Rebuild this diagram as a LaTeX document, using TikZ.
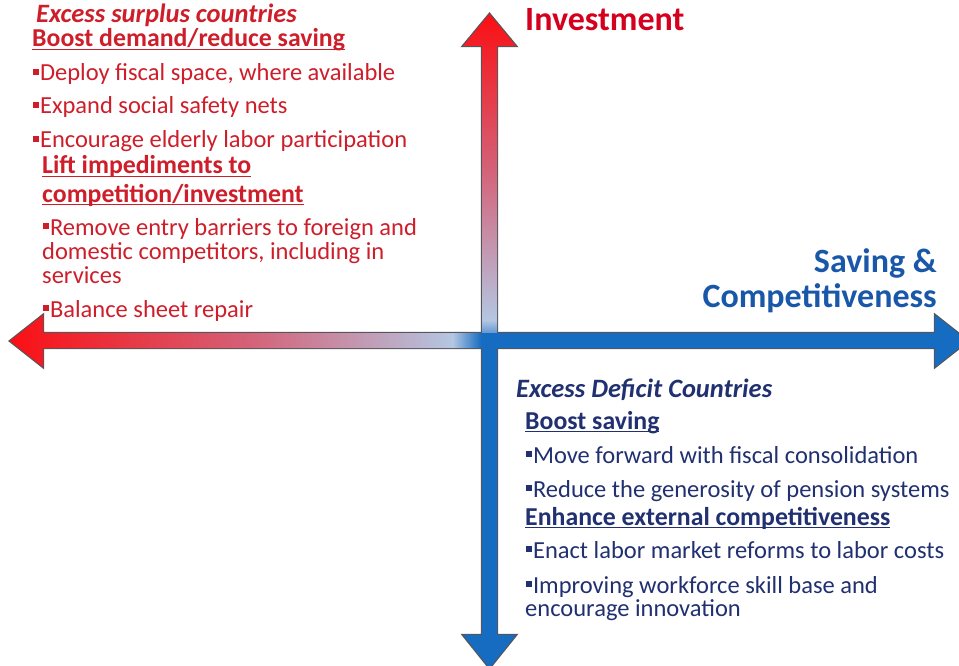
\documentclass[tikz,border=0pt]{standalone}
\usepackage{fontspec}
\setmainfont{Carlito}
\usepackage{tikz}
\definecolor{axred}{RGB}{250,15,20}
\definecolor{axmid}{RGB}{212,98,120}
\definecolor{axlight}{RGB}{180,198,226}
\definecolor{axblue}{RGB}{22,108,192}
\definecolor{axedge}{RGB}{85,85,90}
\definecolor{surpred}{RGB}{206,30,42}
\definecolor{defnavy}{RGB}{32,48,112}
\definecolor{invred}{RGB}{212,0,30}
\definecolor{savblue}{RGB}{25,88,168}
\pgfdeclarehorizontalshading{haxis}{100bp}{color(0bp)=(axred); color(25bp)=(axred); color(37.5bp)=(axmid); color(48.1bp)=(axlight); color(49.6bp)=(axblue); color(100bp)=(axblue)}
\pgfdeclareverticalshading{vaxis}{100bp}{color(0bp)=(axblue); color(49.7bp)=(axblue); color(51.6bp)=(axlight); color(63.1bp)=(axmid); color(75bp)=(axred); color(100bp)=(axred)}
\def\sqb{\raisebox{0.26em}{\rule{0.22em}{0.22em}}\kern0.06em}
\def\uln#1{\setbox0\hbox{#1}\rlap{\rule[-3pt]{\wd0}{1.3pt}}\box0}
\def\hdfont{\fontsize{25.8}{30}\selectfont\bfseries}
\def\ctfont{\fontsize{26.5}{31}\selectfont\bfseries\itshape}
\tikzset{
	txt/.style={inner sep=0pt, anchor=base west, font=\fontsize{24.5}{29}\selectfont},
	redtxt/.style={txt, text=surpred},
	navytxt/.style={txt, text=defnavy},
	axlabel/.style={inner sep=0pt, font=\fontsize{34}{38}\selectfont\bfseries},
}

\begin{document}
\begin{tikzpicture}[x=1pt, y=-1pt]
			%%%%% START %%%%%
			\useasboundingbox (0,0) rectangle (959,666);
			
			% axes: edges first, then fills over them
			\draw[axedge, line width=2.4pt] (10,341) -- (43,315) -- (43,333) -- (935,333) -- (935,315) -- (968,341) -- (935,367) -- (935,348) -- (43,348) -- (43,367) -- cycle;
			\draw[axedge, line width=2.4pt] (489.5,14) -- (516,46) -- (497,46) -- (497,635) -- (516,635) -- (489.5,668) -- (463,635) -- (482,635) -- (482,46) -- (463,46) -- cycle;
			\shade[shading=vaxis] (489.5,14) -- (516,46) -- (497,46) -- (497,635) -- (516,635) -- (489.5,668) -- (463,635) -- (482,635) -- (482,46) -- (463,46) -- cycle;
			\shade[shading=haxis] (10,341) -- (43,315) -- (43,333) -- (935,333) -- (935,315) -- (968,341) -- (935,367) -- (935,348) -- (43,348) -- (43,367) -- cycle;
			
			\node[axlabel, anchor=base west, text=invred] (inv) at (525,31) {Investment};
			\node[axlabel, anchor=base east, text=savblue] (sav) at (937,272) {Saving \&};
			\node[axlabel, anchor=base east, text=savblue] (comp) at (937,307) {Competitiveness};
			
			% surplus side
			\node[redtxt] (sh) at (36,23) {\ctfont Excess surplus countries};
			\node[redtxt] (sa) at (32,47) {\hdfont\uln{Boost demand/reduce saving}};
			\node[redtxt] (s1) at (33,81) {\sqb Deploy fiscal space, where available};
			\node[redtxt] (s2) at (33,114) {\sqb Expand social safety nets};
			\node[redtxt] (s3) at (33,148) {\sqb Encourage elderly labor participation};
			\node[redtxt] (sb) at (42,174) {\hdfont\uln{Lift impediments to}};
			\node[redtxt] (sc) at (42,202) {\hdfont\uln{competition/investment}};
			\node[redtxt] (s4) at (43,235) {\sqb Remove entry barriers to foreign and};
			\node[redtxt] (s5) at (42,259) {domestic competitors, including in};
			\node[redtxt] (s6) at (42,283) {services};
			\node[redtxt] (s7) at (43,317) {\sqb Balance sheet repair};
			
			% deficit side
			\node[navytxt] (dh) at (516,397) {\ctfont Excess Deficit Countries};
			\node[navytxt] (da) at (525,429) {\hdfont\uln{Boost saving}};
			\node[navytxt] (d1) at (526,463) {\sqb Move forward with fiscal consolidation};
			\node[navytxt] (d2) at (526,497) {\sqb Reduce the generosity of pension systems};
			\node[navytxt] (db) at (525,525) {\hdfont\uln{Enhance external competitiveness}};
			\node[navytxt] (d3) at (526,558) {\sqb Enact labor market reforms to labor costs};
			\node[navytxt] (d4) at (526,593) {\sqb Improving workforce skill base and};
			\node[navytxt] (d5) at (525,616) {encourage innovation};
			
			%%%%% END %%%%%
\end{tikzpicture}
\end{document}
